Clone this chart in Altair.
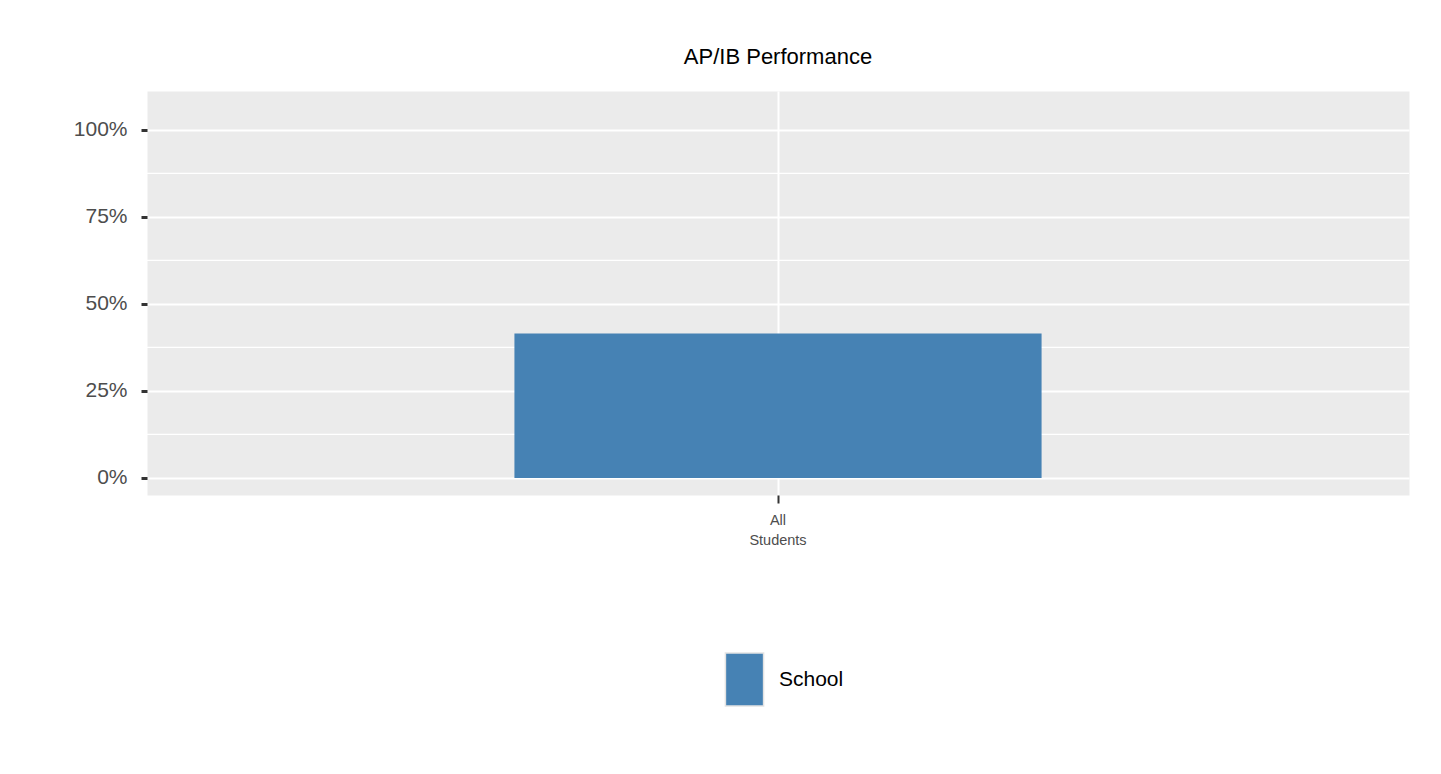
import altair as alt
import pandas as pd

# ---- data ----
categories = ["All Students"]
series = ["School"]
values = [0.415]
major_ticks = [0.0, 0.25, 0.5, 0.75, 1.0]
minor_ticks = [0.125, 0.375, 0.625, 0.875]

FONT = "'Liberation Sans', Arial, Helvetica, sans-serif"

bars_df = pd.DataFrame({"cat": categories, "series": series, "val": values})
minor_df = pd.DataFrame({"v": minor_ticks})

yscale = alt.Scale(domain=[-0.049, 1.112], nice=False, zero=False)

y_axis = alt.Axis(
    title=None,
    values=major_ticks,
    format=".0%",
    labelFontSize=21,
    labelColor="#4d4d4d",
    labelFont=FONT,
    labelPadding=14,
    tickSize=6,
    tickWidth=3,
    tickColor="#333333",
    domain=False,
    grid=True,
    gridColor="white",
    gridWidth=2.2,
)

minor = alt.Chart(minor_df).mark_rule(color="white", strokeWidth=1.3).encode(
    y=alt.Y("v:Q", scale=yscale, axis=y_axis)
)

bars = alt.Chart(bars_df).mark_bar(color="#4682b4").encode(
    x=alt.X(
        "cat:N",
        scale=alt.Scale(paddingInner=0, paddingOuter=0.697),
        axis=alt.Axis(
            title=None,
            labelAngle=0,
            labelExpr="split(datum.label, ' ')",
            labelLineHeight=20,
            labelFontSize=14.5,
            labelColor="#4d4d4d",
            labelFont=FONT,
            labelPadding=10,
            labelBaseline="top",
            tickSize=8,
            tickWidth=2,
            tickColor="#333333",
            domain=False,
            grid=True,
            gridColor="white",
            gridWidth=2,
        ),
    ),
    y=alt.Y("val:Q", scale=yscale, axis=y_axis),
    color=alt.Color(
        "series:N",
        scale=alt.Scale(domain=series, range=["#4682b4"]),
        legend=alt.Legend(
            title=None,
            orient="none",
            legendX=570,
            legendY=561,
            symbolType="M-0.72,-1L0.72,-1L0.72,1L-0.72,1Z",
            symbolSize=2809,
            symbolStrokeColor="#e3e3e3",
            symbolStrokeWidth=1.5,
            symbolOpacity=1,
            labelFontSize=21,
            labelFont=FONT,
            labelColor="#000000",
            labelOffset=7,
            padding=0,
        ),
    ),
)

chart = (
    alt.layer(minor, bars)
    .properties(
        width=1262,
        height=404,
        autosize="none",
        padding={"left": 139, "top": 83, "right": 24, "bottom": 260},
        title=alt.TitleParams(
            "AP/IB Performance",
            font=FONT,
            fontSize=22,
            fontWeight="normal",
            color="#000000",
            anchor="middle",
            offset=22,
        ),
    )
    .configure_view(fill="#ebebeb", stroke="transparent")
)

chart.save("out.html", embed_options={"renderer": "svg", "actions": False})
